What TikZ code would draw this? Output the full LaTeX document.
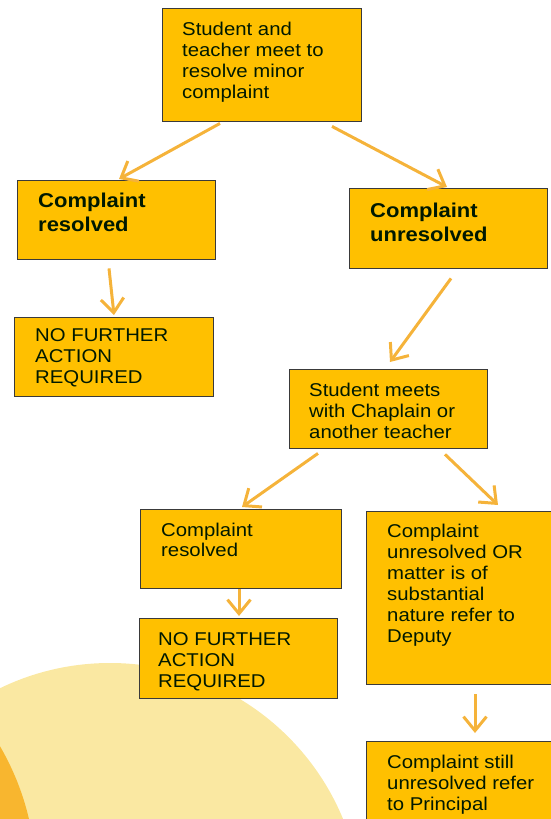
\documentclass[tikz,border=0pt]{standalone}
\usepackage{fontspec}
\setmainfont[FakeStretch=1.1]{Liberation Sans}
\usetikzlibrary{arrows.meta}
\definecolor{boxfill}{HTML}{FFC000}
\definecolor{boxline}{HTML}{3A3A3A}
\definecolor{arrowc}{HTML}{F5B33A}
\definecolor{lightc}{HTML}{FAE8A2}
\definecolor{darkc}{HTML}{F8B62F}
\tikzset{
  flowbox/.style={draw=boxline, line width=1.4pt, fill=boxfill, inner sep=0pt, anchor=north west},
  txt/.style={inner sep=0pt, anchor=north west, align=left, text=black!90!green, font=\fontsize{18.5}{21}\selectfont},
  btxt/.style={txt, font=\fontsize{20}{24}\selectfont\bfseries},
  flow/.style={draw=arrowc, line width=3pt, -{Straight Barb[length=14pt,width=23pt]}}
}
\begin{document}
\begin{tikzpicture}[x=1pt,y=-1pt]
\useasboundingbox (0,0) rectangle (550,819);
\begin{scope}
  \clip (0,0) rectangle (550,819);
  \fill[lightc] (110,915) circle[radius=252pt];
  \fill[darkc] (-230,880) circle[radius=266pt];
\end{scope}
% boxes
\node[flowbox, minimum width=199pt, minimum height=113pt] (b1) at (162,8) {};
\node[flowbox, minimum width=198pt, minimum height=79pt] (b2) at (17,180) {};
\node[flowbox, minimum width=198pt, minimum height=80pt] (b3) at (349,188) {};
\node[flowbox, minimum width=199pt, minimum height=79pt] (b4) at (14,317) {};
\node[flowbox, minimum width=198pt, minimum height=79pt] (b5) at (289,369) {};
\node[flowbox, minimum width=201pt, minimum height=79pt] (b6) at (140,509) {};
\node[flowbox, minimum width=198pt, minimum height=80pt] (b7) at (139,618) {};
\node[flowbox, minimum width=190pt, minimum height=173pt] (b8) at (366,511) {};
\node[flowbox, minimum width=190pt, minimum height=85pt] (b9) at (366,741) {};
% texts
\node[txt] (t1) at (182,22) {Student and\\teacher meet to\\resolve minor\\complaint};
\node[btxt] (t2) at (38,193) {Complaint\\resolved};
\node[btxt] (t3) at (370,203) {Complaint\\unresolved};
\node[txt] (t4) at (35,328) {NO FURTHER\\ACTION\\REQUIRED};
\node[txt] (t5) at (309,383) {Student meets\\with Chaplain or\\another teacher};
\node[txt, font=\fontsize{18.5}{20}\selectfont] (t6) at (161,523) {Complaint\\resolved};
\node[txt] (t7) at (158,632) {NO FURTHER\\ACTION\\REQUIRED};
\node[txt] (t8) at (387,524) {Complaint\\unresolved OR\\matter is of\\substantial\\nature refer to\\Deputy};
\node[txt] (t9) at (387,755) {Complaint still\\unresolved refer\\to Principal};
% arrows
\draw[flow] ([shift={(58,1)}]b1.south west) -- ([shift={(102,-1)}]b2.north west);
\draw[flow] ([shift={(170,4)}]b1.south west) -- ([shift={(98,-1)}]b3.north west);
\draw[flow] ([shift={(92,8)}]b2.south west) -- ([shift={(100,-2)}]b4.north west);
\draw[flow] ([shift={(102,9)}]b3.south west) -- ([shift={(101,-7)}]b5.north west);
\draw[flow] ([shift={(29,4)}]b5.south west) -- ([shift={(102,-2)}]b6.north west);
\draw[flow] ([shift={(156,5)}]b5.south west) -- ([shift={(132,-6)}]b8.north west);
\draw[flow] ([shift={(99,0)}]b6.south west) -- ([shift={(100,-2)}]b7.north west);
\draw[flow] ([shift={(109,9)}]b8.south west) -- ([shift={(109,-8)}]b9.north west);
\end{tikzpicture}
\end{document}
